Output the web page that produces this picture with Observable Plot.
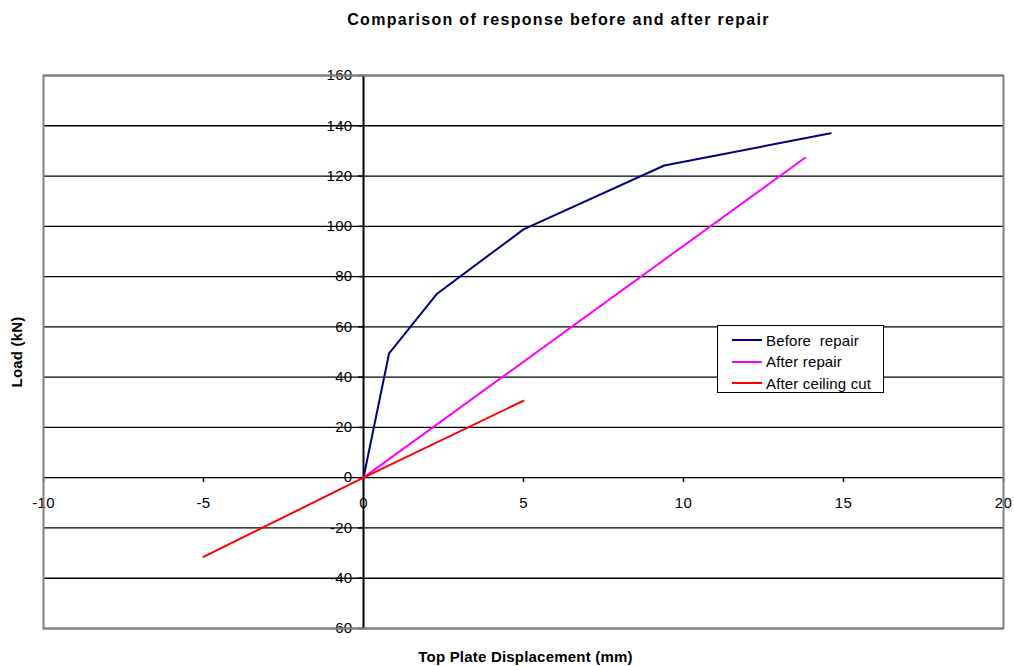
<!DOCTYPE html>
<html>
<head>
<meta charset="utf-8">
<script src="https://cdn.jsdelivr.net/npm/d3@7"></script>
<script src="https://cdn.jsdelivr.net/npm/@observablehq/plot@0.6"></script>
<style>
  html, body { margin: 0; padding: 0; background: #fff; }
  #chart { position: relative; width: 1014px; height: 666px; font-family: "Liberation Sans", Arial, sans-serif; }
  #legend {
    position: absolute; left: 717px; top: 325px; width: 167px; height: 68px;
    border: 1px solid #000; background: #fff; box-sizing: border-box;
    font-size: 15px; letter-spacing: 0.15px; color: #000;
  }
  #legend .row { position: absolute; left: 14px; height: 22px; display: flex; align-items: center; white-space: pre; }
  #legend svg { margin-right: 4px; }
</style>
</head>
<body>
<div id="chart"></div>
<script>
// Load vs. top plate displacement for the three test stages
const beforeX = [0, 0.8, 2.3, 5.0, 9.4, 14.6];
const beforeY = [0, 49.5, 73.2, 98.8, 124.2, 137.0];
const afterX = [0, 13.8];
const afterY = [0, 127.3];
const cutX = [-5, 0, 5];
const cutY = [-31.5, 0, 30.6];

const seriesNames = ["Before  repair", "After repair", "After ceiling cut"];
const seriesColors = ["#000080", "#ff00ff", "#ff0000"];

const xTicks = [-10, -5, 0, 5, 10, 15, 20];
const yTicks = [-60, -40, -20, 0, 20, 40, 60, 80, 100, 120, 140, 160];

const titleText = "Comparison of response before and after repair";
const xLabel = "Top Plate Displacement (mm)";
const yLabel = "Load (kN)";

const toRows = (xs, ys, name) => xs.map((x, i) => ({x, y: ys[i], series: name}));
const rows = [
  ...toRows(beforeX, beforeY, seriesNames[0]),
  ...toRows(afterX, afterY, seriesNames[1]),
  ...toRows(cutX, cutY, seriesNames[2])
];

const fmt = d => String(d);

const plot = Plot.plot({
  width: 1014,
  height: 666,
  marginTop: 75,
  marginBottom: 38,
  marginLeft: 43,
  marginRight: 11,
  style: {fontFamily: "'Liberation Sans', Arial, sans-serif", color: "#000", background: "#fff"},
  x: {domain: [-10, 20]},
  y: {domain: [-60, 160]},
  color: {domain: seriesNames, range: seriesColors},
  marks: [
    // horizontal gridlines
    Plot.ruleY(yTicks, {stroke: "#000", strokeWidth: 1.3}),
    // axes crossing at the origin
    Plot.ruleX([0], {stroke: "#000", strokeWidth: 2}),
    Plot.axisY({x: 0, ticks: yTicks, tickSize: 5, tickPadding: 6, tickFormat: fmt, label: null, fontSize: 15, stroke: "#000", strokeWidth: 1.5}),
    Plot.axisX({y: 0, ticks: xTicks, tickSize: 5, tickPadding: 15, tickFormat: fmt, label: null, fontSize: 15, stroke: "#000", strokeWidth: 1.5}),
    Plot.frame({stroke: "#808080", strokeWidth: 2}),
    Plot.line(rows, {x: "x", y: "y", z: "series", stroke: "series", strokeWidth: 2}),
    // titles
    Plot.text([titleText], {frameAnchor: "top", dx: 35, dy: -62, fontWeight: "bold", fontSize: 16}),
    Plot.text([xLabel], {frameAnchor: "bottom", dx: 2, dy: 33, fontWeight: "bold", fontSize: 15}),
    Plot.text([yLabel], {frameAnchor: "left", textAnchor: "middle", dx: -26, rotate: -90, fontWeight: "bold", fontSize: 15})
  ]
});

// tick label size and text letter spacing
const svg = d3.select(plot);
svg.selectAll("g[aria-label$='tick label']").attr("font-size", 15).style("font-size", "15px").style("letter-spacing", "0.3px");
svg.selectAll("text").filter(function() { return this.textContent === titleText; }).style("letter-spacing", "1.3px");
svg.selectAll("text").filter(function() { return this.textContent === xLabel || this.textContent === yLabel; }).style("letter-spacing", "0.2px");

const chart = document.getElementById("chart");
chart.appendChild(plot);

// legend box
const legend = document.createElement("div");
legend.id = "legend";
seriesNames.forEach((name, i) => {
  const row = document.createElement("div");
  row.className = "row";
  row.style.top = (3 + i * 21.5) + "px";
  row.innerHTML = `<svg width="30" height="4"><line x1="0" x2="30" y1="2" y2="2" stroke="${seriesColors[i]}" stroke-width="2"/></svg><span>${name}</span>`;
  legend.appendChild(row);
});
chart.appendChild(legend);
</script>
</body>
</html>
